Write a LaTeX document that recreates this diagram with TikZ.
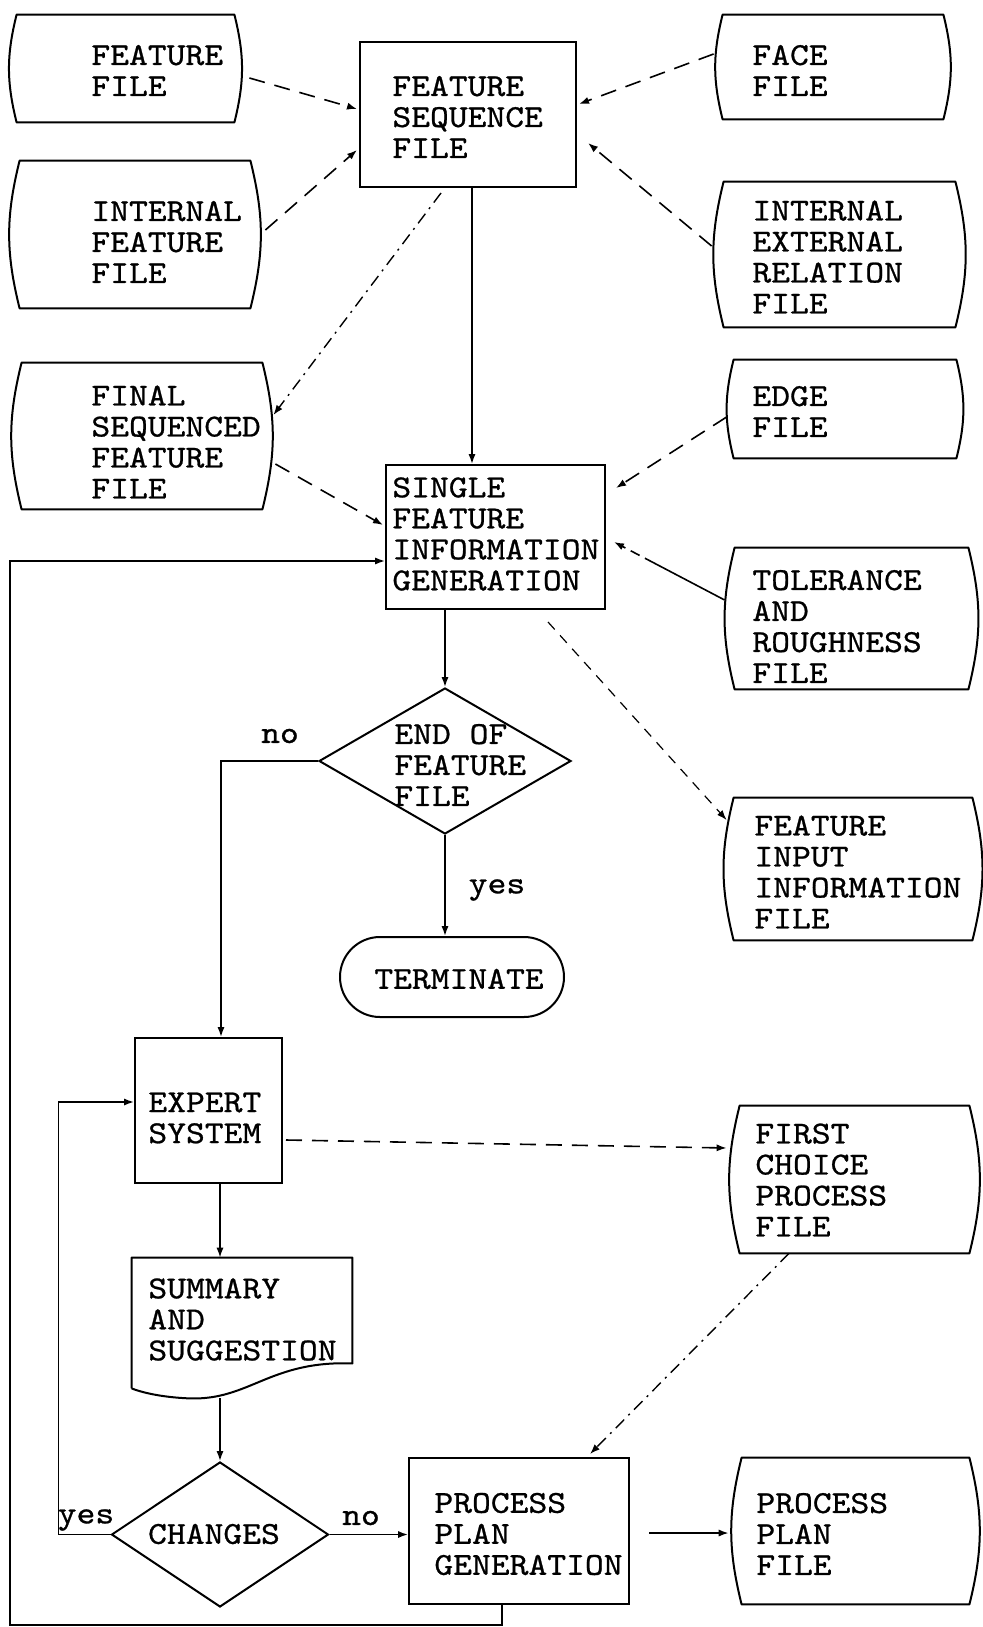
\documentclass[tikz,border=0pt]{standalone}
\usepackage{fontspec}
\usetikzlibrary{arrows.meta,shapes.geometric,calc}
\newfontfamily\twfont{lmmono10-regular.otf}[FakeStretch=1.12, FakeBold=0.8]
\begin{document}
\begin{tikzpicture}[x=0.5pt,y=-0.5pt,
  >={Latex[length=5pt,width=3.6pt]},
  frame/.style={line width=1pt, line join=round},
  proc/.style={draw, line width=1pt, inner sep=0pt},
  store/.style={inner sep=0pt},
  sz/.style 2 args={minimum width=#1*0.5pt, minimum height=#2*0.5pt},
  txt/.style={font=\twfont\fontsize{16pt}{15.5pt}\selectfont, align=left, inner sep=0pt, anchor=west},
  flow/.style={line width=0.8pt, ->},
  dsh/.style={line width=0.8pt, ->, dash pattern=on 8pt off 5pt},
  dshdot/.style={line width=0.7pt, ->, dash pattern=on 6pt off 3pt on 1pt off 3pt},
  fine/.style={line width=0.6pt, ->, dash pattern=on 5pt off 4pt},
]
\fill[white] (0,0) rectangle (982,1627);
\useasboundingbox (0,0) rectangle (982,1627);

% process boxes
\node[proc, sz={216}{145}] (fsf)    at (468,114.5)  {};
\node[proc, sz={219}{144}] (sfig)   at (495.5,537)  {};
\node[proc, sz={147}{145}] (expert) at (208.5,1110.5) {};
\node[proc, sz={220}{146}] (ppg)    at (519,1531)   {};

% stored data files
\node[store, sz={217}{107}] (ffile) at (125.5,68.5)  {};
\node[store, sz={220}{104}] (face)  at (833,67)      {};
\node[store, sz={230}{147}] (intf)  at (135,234.5)   {};
\node[store, sz={231}{145}] (ierf)  at (839.5,254.5) {};
\node[store, sz={240}{146}] (fsff)  at (142,436)     {};
\node[store, sz={222}{98}]  (edge)  at (845,409)     {};
\node[store, sz={233}{141}] (tol)   at (851.5,618.5) {};
\node[store, sz={238}{142}] (fif)   at (853,869)     {};
\node[store, sz={229}{147}] (fcp)   at (854.5,1179.5){};
\node[store, sz={227}{146}] (ppf)   at (855.5,1531)  {};
\foreach \n in {ffile,face,intf,ierf,fsff,edge,tol,fif,fcp,ppf}
  \draw[frame] (\n.north west) -- (\n.north east) to[bend left=14] (\n.south east)
               -- (\n.south west) to[bend left=14] cycle;

% decisions and terminal
\node[diamond, draw, line width=1pt, inner sep=0pt, sz={252}{146}] (endd) at (445,761) {};
\node[diamond, draw, line width=1pt, inner sep=0pt, sz={217}{145}] (chg)  at (220,1534.5) {};
\node[draw, line width=1pt, rounded corners=20pt, inner sep=0pt, sz={224}{80}] (term) at (452,977) {};

% document
\node[store, sz={220}{140}] (summ) at (242,1328) {};
\draw[frame] ($(summ.south west)+(0,-10)$) -- (summ.north west) -- (summ.north east)
  -- ($(summ.south east)+(0,-35)$)
  .. controls ($(summ.south west)+(138,-38)$) and ($(summ.south west)+(118,2)$) .. ($(summ.south west)+(58,0)$)
  .. controls ($(summ.south west)+(33,-1)$) and ($(summ.south west)+(13,-5)$) .. ($(summ.south west)+(0,-10)$);

% texts
\node[txt] (ffile-t)  at (91,70.5)   {FEATURE\\FILE};
\node[txt] (fsf-t)    at (392,117)   {FEATURE\\SEQUENCE\\FILE};
\node[txt] (face-t)   at (752,70.5)  {FACE\\FILE};
\node[txt] (intf-t)   at (91,242)    {INTERNAL\\FEATURE\\FILE};
\node[txt] (ierf-t)   at (752,257)   {INTERNAL\\EXTERNAL\\RELATION\\FILE};
\node[txt] (fsff-t)   at (91,442)    {FINAL\\SEQUENCED\\FEATURE\\FILE};
\node[txt] (edge-t)   at (752,411.5) {EDGE\\FILE};
\node[txt] (sfig-t)   at (392,534)   {SINGLE\\FEATURE\\INFORMATION\\GENERATION};
\node[txt] (tol-t)    at (752,626.5) {TOLERANCE\\AND\\ROUGHNESS\\FILE};
\node[txt] (endd-t)   at (394,765)   {END OF\\FEATURE\\FILE};
\node[txt] (fif-t)    at (754,872)   {FEATURE\\INPUT\\INFORMATION\\FILE};
\node[txt, anchor=center] (term-t) at (459,979) {TERMINATE};
\node[txt] (expert-t) at (148,1118)  {EXPERT\\SYSTEM};
\node[txt] (fcp-t)    at (755,1180)  {FIRST\\CHOICE\\PROCESS\\FILE};
\node[txt] (summ-t)   at (148,1319.5){SUMMARY\\AND\\SUGGESTION};
\node[txt, anchor=center] (chg-t) at (214,1534) {CHANGES};
\node[txt] (ppg-t)    at (434,1534)  {PROCESS\\PLAN\\GENERATION};
\node[txt] (ppf-t)    at (756,1534)  {PROCESS\\PLAN\\FILE};
\node[txt, anchor=center] (no1)  at (280,736)  {no};
\node[txt, anchor=center] (yes1) at (497,890)  {yes};
\node[txt, anchor=center] (yes2) at (86,1520)  {yes};
\node[txt, anchor=center] (no2)  at (361,1518) {no};

% control flow
\draw[flow] ($(fsf.south)+(4,0)$) coordinate (fsfdown) -- (fsfdown |- sfig.north);
\draw[flow] (sfig.south -| endd.north) -- (endd.north);
\draw[flow] (endd.south) -- (term.north -| endd.south);
\draw[flow] (endd.west) -| ($(expert.north)+(12.5,0)$);
\draw[flow] (expert.south -| chg.north) -- (summ.north -| chg.north);
\draw[flow] (summ.south -| chg.north) -- (chg.north);
\draw[flow] (chg.west) -- ++(-52,0) |- ($(expert.west)+(0,-8.5)$);
\draw[flow] (chg.east) -- (chg.east -| ppg.west);
\draw[flow] ($(ppg.east)+(19,2)$) -- ($(ppf.west)+(-13,2)$);
\draw[flow] ($(ppg.south)+(-17,0)$) -- ++(0,20) -- ++(-492,0) |- ($(sfig.west)+(0,24)$);

% data flow
\draw[dsh]    ($(ffile.east)+(15,9.5)$)  -- ($(fsf.west)+(-2,-5.5)$);
\draw[dsh]    ($(intf.east)+(15,-4.5)$)  -- ($(fsf.west)+(-2,35.5)$);
\draw[dsh]    ($(face.west)+(-9,-13)$)   -- ($(fsf.east)+(2,-10.5)$);
\draw[dsh]    ($(ierf.west)+(-12,-8.5)$) -- ($(fsf.east)+(11,28.5)$);
\draw[dshdot] ($(fsf.south)+(-27,5)$)    -- ($(fsff.east)+(11,-21)$);
\draw[dsh]    ($(fsff.east)+(13,28)$)    -- ($(sfig.west)+(-2,-12)$);
\draw[dsh]    ($(edge.west)+(-7,8)$)     -- ($(sfig.east)+(10,-49)$);
\draw[line width=0.8pt, ->, dash pattern=on 45pt off 3pt on 5pt off 3pt on 5pt off 20pt]
              ($(tol.west)+(-10,-18.5)$) -- ($(sfig.east)+(8,5)$);
\draw[fine]   ($(sfig.south)+(52.5,12)$) -- ($(fif.west)+(-7,-49)$);
\draw[dsh]    ($(expert.east)+(3,29.5)$) -- ($(fcp.west)+(-13,-31.5)$);
\draw[dshdot] ($(fcp.south)+(-65.5,0)$)  -- ($(ppg.north)+(71,-3)$);
\end{tikzpicture}
\end{document}
